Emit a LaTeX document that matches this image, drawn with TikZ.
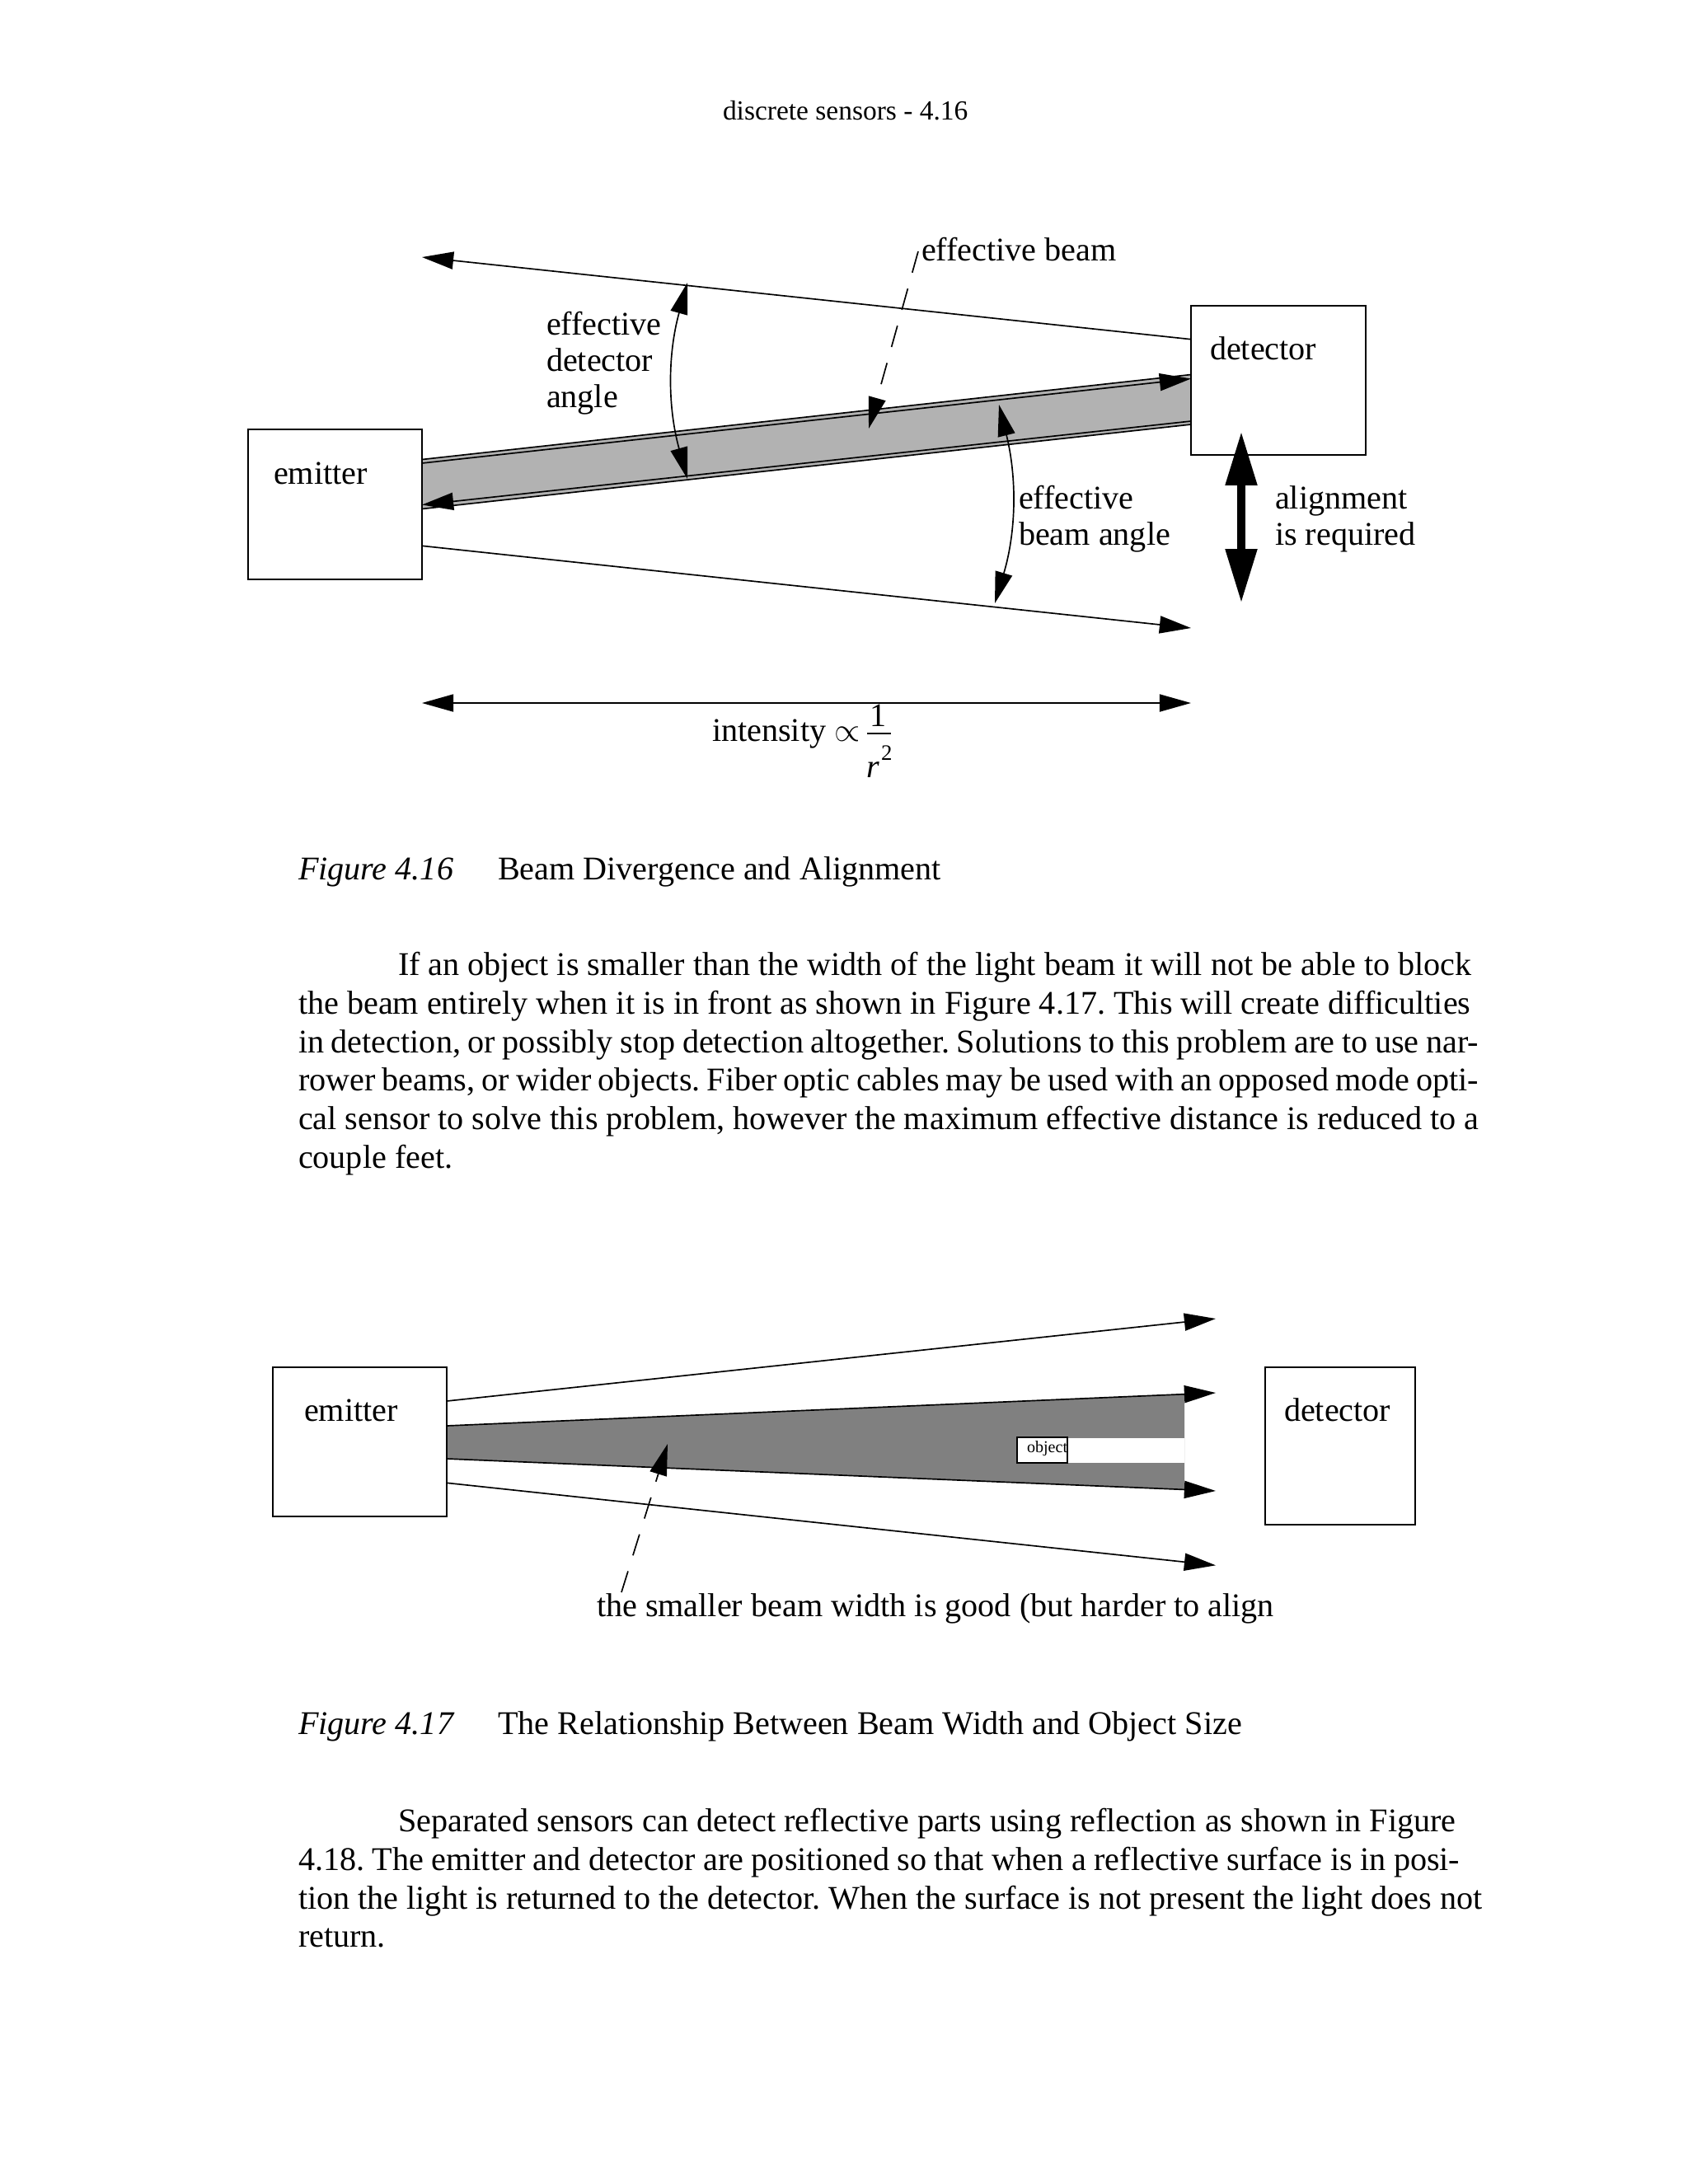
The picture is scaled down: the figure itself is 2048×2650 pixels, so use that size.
\documentclass[tikz,border=0pt]{standalone}
\usepackage{fontspec}
\setmainfont{Liberation Serif}
\usetikzlibrary{arrows.meta}
\definecolor{bandlight}{gray}{0.70}
\definecolor{banddark}{gray}{0.50}
\newcommand\pxu{0.29883pt}
\frenchspacing
\begin{document}
\begin{tikzpicture}[x=0.29883pt,y=-0.29883pt,
  line width=0.5pt,
  >={Triangle[length=11.4pt,width=6.3pt]},
  every node/.style={inner sep=0pt,outer sep=0pt},
  lbl/.style={anchor=base west,font=\fontsize{12}{14}\selectfont},
  hdr/.style={anchor=base west,font=\fontsize{10}{12}\selectfont},
  tiny/.style={anchor=base west,font=\fontsize{6}{7}\selectfont},
  supr/.style={anchor=base west,font=\fontsize{8}{9}\selectfont},
  box/.style={draw,anchor=north west,line width=0.5pt},
  dashline/.style={dash pattern=on 8pt off 6pt},
  thickarrow/.style={line width=3.2pt,{Triangle[length=19.7pt,width=10.8pt]}-{Triangle[length=19.7pt,width=10.8pt]}}]
\fill[white] (0,0) rectangle (2048,2650);
\useasboundingbox (0,0) rectangle (2048,2650);

% header
\node[hdr] (header) at (877,145) {discrete sensors - 4.16};

% ===== Figure 4.16 =====
\coordinate (bTL) at (512,557.5);
\coordinate (bTR) at (1445,454.5);
\coordinate (bBR) at (1445,515);
\coordinate (bBL) at (512,617.5);
\fill[bandlight] (bTL) -- (bTR) -- (bBR) -- (bBL) -- cycle;
\draw (bTL) -- (bTR);
\draw (bBL) -- (bBR);
\coordinate (inA) at (512,562);
\coordinate (inB) at (1445,459.5);
\coordinate (inC) at (1445,511);
\coordinate (inD) at (512,612.5);
\draw[->] (inA) -- (inB);
\draw[->] (inC) -- (inD);

\node[box,minimum width={211*\pxu},minimum height={182*\pxu}] (em1) at (301,521) {};
\node[box,minimum width={212*\pxu},minimum height={181*\pxu}] (det1) at (1445,371) {};
\node[lbl] (em1t) at (332,587) {emitter};
\node[lbl] (det1t) at (1468,436) {detector};

\coordinate (topS) at (1445,411.7);
\coordinate (topE) at (512,312);
\draw[->] (topS) -- (topE);
\coordinate (botS) at (512,662.3);
\coordinate (botE) at (1445,762);
\draw[->] (botS) -- (botE);

% effective detector angle
\coordinate (edaT) at (834,343);
\coordinate (edaB) at (834,581);
\draw[<->] (edaT) .. controls (810,430) and (810,494) .. (edaB);
\node[lbl] (eda1) at (663,406) {effective};
\node[lbl] (eda2) at (663,450) {detector};
\node[lbl] (eda3) at (663,494) {angle};

% effective beam
\node[lbl] (ebt) at (1118,316) {effective beam};
\coordinate (ebS) at (1114,305);
\coordinate (ebE) at (1054,520);
\draw[->,dashline] (ebS) -- (ebE);

% effective beam angle
\coordinate (ebaT) at (1212,491);
\coordinate (ebaB) at (1207,732);
\draw[<->] (ebaT) .. controls (1234,580) and (1233,645) .. (ebaB);
\node[lbl] (eba1) at (1236,617) {effective};
\node[lbl] (eba2) at (1236,661) {beam angle};

% alignment
\coordinate (alT) at (1506,523);
\coordinate (alB) at (1506,732);
\draw[thickarrow] (alT) -- (alB);
\node[lbl] (al1) at (1547,617) {alignment};
\node[lbl] (al2) at (1547,661) {is required};

% intensity
\coordinate (inL) at (512,853);
\coordinate (inR) at (1445,853);
\draw[<->] (inL) -- (inR);
\node[lbl] (intt) at (864,899) {intensity $\propto$};
\node[lbl,anchor=base] (num) at (1066,881) {1};
\coordinate (barL) at (1052,890);
\coordinate (barR) at (1080.5,890);
\draw[line width=0.7pt] (barL) -- (barR);
\node[lbl] (rr) at (1051,943) {\textit{r}};
\node[supr] (sq) at (1069,922) {2};

% caption 4.16
\node[lbl] (cap1a) at (362,1067) {\textit{Figure 4.16}};
\node[lbl] (cap1b) at (604,1067) {Beam Divergence and Alignment};

% paragraph 1
\node[lbl] (p1a) at (483,1183) {If an object is smaller than the width of the light beam it will not be able to block};
\node[lbl] (p1b) at (362,1230) {the beam entirely when it is in front as shown in Figure 4.17. This will create difficulties};
\node[lbl] (p1c) at (362,1277) {\makebox[427.9pt][s]{in detection, or possibly stop detection altogether. Solutions to this problem are to use nar-}};
\node[lbl] (p1d) at (362,1323) {\makebox[427.9pt][s]{rower beams, or wider objects. Fiber optic cables may be used with an opposed mode opti-}};
\node[lbl] (p1e) at (362,1370) {cal sensor to solve this problem, however the maximum effective distance is reduced to a};
\node[lbl] (p1f) at (362,1417) {couple feet.};

% ===== Figure 4.17 =====
\coordinate (wTL) at (542,1730);
\coordinate (wTR) at (1437,1691.7);
\coordinate (wBR) at (1437,1807.3);
\coordinate (wBL) at (542,1770);
\fill[banddark] (wTL) -- (wTR) -- (wBR) -- (wBL) -- cycle;
\coordinate (shA) at (1295,1745);
\coordinate (shB) at (1437,1775);
\fill[white] (shA) rectangle (shB);
\node[box,fill=white,minimum width={61*\pxu},minimum height={31*\pxu}] (obj) at (1234,1744) {};
\node[tiny] (objt) at (1246,1762) {object};

\coordinate (wtE) at (1475,1690);
\coordinate (wbE) at (1475,1809);
\draw[->] (wTL) -- (wtE);
\draw[->] (wBL) -- (wbE);
\coordinate (otS) at (542,1700);
\coordinate (otE) at (1475,1600);
\coordinate (obS) at (542,1799.3);
\coordinate (obE) at (1475,1899.3);
\draw[->] (otS) -- (otE);
\draw[->] (obS) -- (obE);

\node[box,minimum width={211*\pxu},minimum height={181*\pxu}] (em2) at (331,1659) {};
\node[box,minimum width={182*\pxu},minimum height={191*\pxu}] (det2) at (1535,1659) {};
\node[lbl] (em2t) at (369,1724) {emitter};
\node[lbl] (det2t) at (1558,1724) {detector};

\coordinate (sbS) at (754,1932);
\coordinate (sbE) at (810,1752);
\draw[->,dashline] (sbS) -- (sbE);
\node[lbl] (sbt) at (724,1961) {the smaller beam width is good (but harder to align};

% caption 4.17
\node[lbl] (cap2a) at (362,2104) {\textit{Figure 4.17}};
\node[lbl] (cap2b) at (604,2104) {The Relationship Between Beam Width and Object Size};

% paragraph 2
\node[lbl] (p2a) at (483,2222) {Separated sensors can detect reflective parts using reflection as shown in Figure};
\node[lbl] (p2b) at (362,2269) {\makebox[421.1pt][s]{4.18. The emitter and detector are positioned so that when a reflective surface is in posi-}};
\node[lbl] (p2c) at (362,2316) {tion the light is returned to the detector. When the surface is not present the light does not};
\node[lbl] (p2d) at (362,2362) {return.};
\end{tikzpicture}
\end{document}
